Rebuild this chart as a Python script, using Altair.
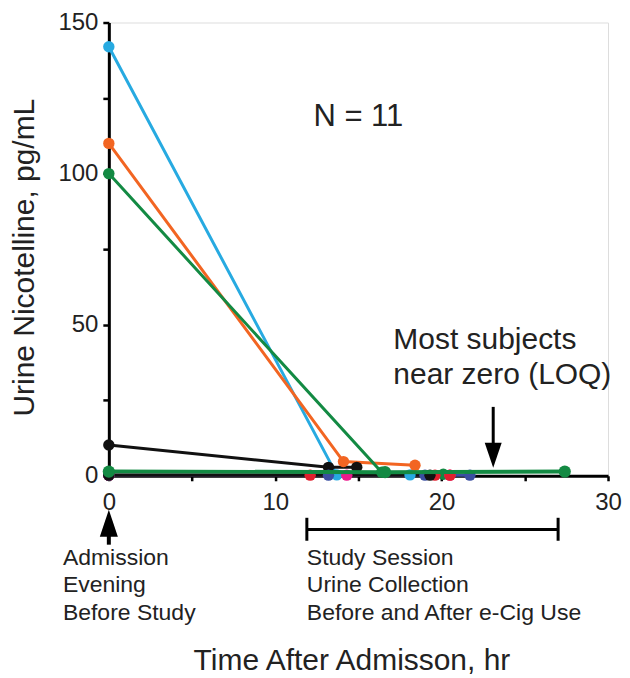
import altair as alt
import pandas as pd

# ---------------- data ----------------
subject_ids = ["S01", "S02", "S03", "S04", "S05", "S06", "S07", "S08", "S09", "S10", "S11"]
subject_colors = ["#27AAE1", "#F26522", "#138A43", "#111111", "#138A43",
                  "#E0202E", "#3B4FA1", "#EC188C", "#E0202E", "#3B4FA1", "#111111"]

times = {
    "S01": [0, 13.7, 18.1],
    "S02": [0, 14.1, 18.4],
    "S03": [0, 16.4, 20.1],
    "S04": [0, 13.2, 14.9],
    "S05": [0, 16.6, 27.4],
    "S06": [0, 12.1, 19.6],
    "S07": [0, 13.2, 19.0],
    "S08": [0, 14.3, 20.5],
    "S09": [0, 20.5],
    "S10": [0, 21.7],
    "S11": [0, 19.3],
}
values = {
    "S01": [142, 0.3, 0.3],
    "S02": [110, 4.7, 3.5],
    "S03": [100, 1.2, 0.5],
    "S04": [10.2, 2.8, 2.8],
    "S05": [1.4, 1.2, 1.4],
    "S06": [0.2, 0.2, 0.2],
    "S07": [0.2, 0.2, 0.2],
    "S08": [0.2, 0.2, 0.2],
    "S09": [0.2, 0.2],
    "S10": [0.2, 0.2],
    "S11": [0.2, 0.2],
}
front_subject = "S05"   # flat green series drawn on top

# annotation anchors (hours, pg/mL)
n_label = ["N = 11"]
n_label_t = [12.3]
n_label_v = [118.6]

loq_lines = ["Most subjects", "near zero (LOQ)"]
loq_t = [17.1, 17.1]
loq_v = [44.9, 33.4]
loq_arrow_t = [23.1]
loq_arrow_top = [22.8]
loq_arrow_head = [6.8]

adm_lines = ["Admission", "Evening", "Before Study"]
adm_t = [-2.76, -2.76, -2.76]
adm_v = [-27.1, -36.3, -45.3]
adm_arrow_t = [0]
adm_arrow_head = [-15.7]
adm_arrow_bottom = [-22.8]

sess_lines = ["Study Session", "Urine Collection", "Before and After e-Cig Use"]
sess_t = [11.9, 11.9, 11.9]
sess_v = [-27.1, -36.3, -45.3]
bracket_t = [11.9]
bracket_t2 = [27.0]
bracket_v = [-17.8]
bracket_ends_t = [11.9, 27.0]
bracket_ends_v = [-13.9, -13.9]
bracket_ends_v2 = [-21.5, -21.5]

x_ticks = [0, 5, 10, 15, 20, 25, 30]
y_ticks = [0, 25, 50, 75, 100, 125, 150]

# ---------------- tables ----------------
rows = []
for sid in subject_ids:
    for i, (t, v) in enumerate(zip(times[sid], values[sid])):
        rows.append({"subject": sid, "t": t, "v": v, "order": i})
df = pd.DataFrame(rows)
df_back = df[df.subject != front_subject]
df_front = df[df.subject == front_subject]

FONT = "Liberation Sans"

xscale = alt.Scale(domain=[0, 30], nice=False, zero=False)
yscale = alt.Scale(domain=[0, 150], nice=False, zero=False)
color = alt.Color("subject:N", scale=alt.Scale(domain=subject_ids, range=subject_colors), legend=None)

x_axis = alt.Axis(
    values=x_ticks, labelExpr="datum.value % 10 === 0 ? datum.label : ''",
    grid=False, domainColor="black", domainWidth=3, tickColor="black", tickWidth=2.5, tickSize=5,
    labelFontSize=24, labelFont=FONT, labelColor="#222", labelPadding=10, labelFlush=False,
    title="Time After Admisson, hr", titleFont=FONT, titleFontSize=30, titleFontWeight="normal",
    titleColor="#222", titleX=243, titleY=185, titleAlign="center", titleBaseline="middle",
)
y_axis = alt.Axis(
    values=y_ticks, labelExpr="datum.value % 50 === 0 ? datum.label : ''",
    grid=False, domainColor="black", domainWidth=3, tickColor="black", tickWidth=2.5, tickSize=6,
    labelFontSize=24, labelFont=FONT, labelColor="#222", labelPadding=5, labelFlush=False,
    title="Urine Nicotelline, pg/mL", titleFont=FONT, titleFontSize=30, titleFontWeight="normal",
    titleColor="#222", titleX=-84, titleY=235, titleAngle=270, titleAlign="center", titleBaseline="middle",
)

X = alt.X("t:Q", scale=xscale, axis=x_axis)
Y = alt.Y("v:Q", scale=yscale, axis=y_axis)
Xs = alt.X("t:Q", scale=xscale)
Ys = alt.Y("v:Q", scale=yscale)

lines_back = alt.Chart(df_back).mark_line(strokeWidth=3).encode(x=X, y=Y, color=color, order="order:Q", detail="subject:N")
pts_back = alt.Chart(df_back).mark_point(filled=True, opacity=1, size=130, shape="circle").encode(x=Xs, y=Ys, color=color)
lines_front = alt.Chart(df_front).mark_line(strokeWidth=4).encode(x=Xs, y=Ys, color=color, order="order:Q")
pts_front = alt.Chart(df_front).mark_point(filled=True, opacity=1, size=150, shape="circle").encode(x=Xs, y=Ys, color=color)

# annotations
def text_layer(labels, ts, vs, size):
    d = pd.DataFrame({"label": labels, "t": ts, "v": vs})
    return alt.Chart(d).mark_text(align="left", baseline="middle", font=FONT, fontSize=size, color="#222").encode(
        x=Xs, y=Ys, text="label:N")

n_text = text_layer(n_label, n_label_t, n_label_v, 31)
loq_text = text_layer(loq_lines, loq_t, loq_v, 30)
adm_text = text_layer(adm_lines, adm_t, adm_v, 23)
sess_text = text_layer(sess_lines, sess_t, sess_v, 23)

loq_shaft = alt.Chart(pd.DataFrame({"t": loq_arrow_t, "v": loq_arrow_top, "v2": loq_arrow_head})).mark_rule(
    color="black", strokeWidth=3).encode(x=Xs, y=Ys, y2="v2:Q")
loq_head = alt.Chart(pd.DataFrame({"t": loq_arrow_t, "v": loq_arrow_head})).mark_point(
    shape="M-0.68,-1L0.68,-1L0,1Z", filled=True, opacity=1, color="black", size=625, strokeWidth=0).encode(x=Xs, y=Ys)

adm_shaft = alt.Chart(pd.DataFrame({"t": adm_arrow_t, "v": adm_arrow_head, "v2": adm_arrow_bottom})).mark_rule(
    color="black", strokeWidth=4).encode(x=Xs, y=Ys, y2="v2:Q")
adm_head = alt.Chart(pd.DataFrame({"t": adm_arrow_t, "v": adm_arrow_head})).mark_point(
    shape="M-0.67,1L0.67,1L0,-1Z", filled=True, opacity=1, color="black", size=729, strokeWidth=0).encode(x=Xs, y=Ys)

bracket = alt.Chart(pd.DataFrame({"t": bracket_t, "t2": bracket_t2, "v": bracket_v})).mark_rule(
    color="black", strokeWidth=3).encode(x=Xs, x2="t2:Q", y=Ys)
bracket_ends = alt.Chart(pd.DataFrame({"t": bracket_ends_t, "v": bracket_ends_v, "v2": bracket_ends_v2})).mark_rule(
    color="black", strokeWidth=3).encode(x=Xs, y=Ys, y2="v2:Q")

chart = alt.layer(
    lines_back, pts_back, lines_front, pts_front,
    n_text, loq_text, loq_shaft, loq_head,
    adm_shaft, adm_head, adm_text,
    bracket, bracket_ends, sess_text,
).properties(
    width=500, height=454,
    autosize=alt.AutoSizeParams(type="none"),
    padding={"left": 101, "top": 14, "right": 14, "bottom": 202},
).configure_view(stroke=None).configure(background="white")

chart.save("out.html", embed_options={"renderer": "svg", "actions": False})
